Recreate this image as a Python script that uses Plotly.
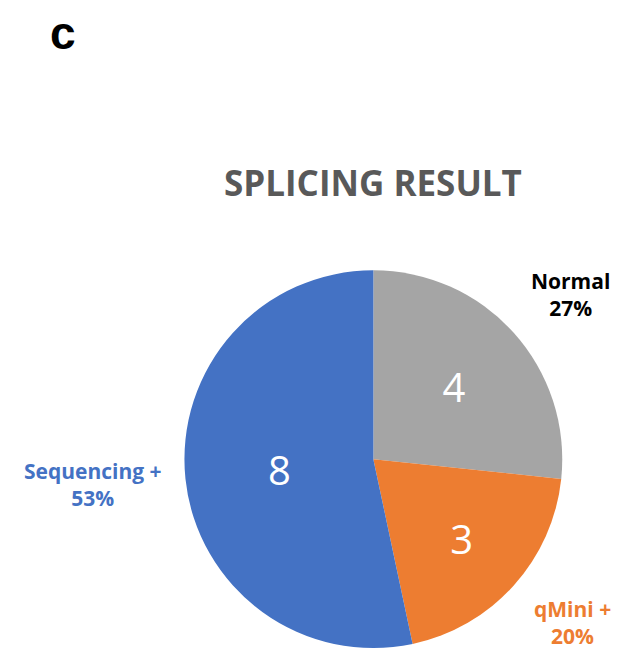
import plotly.graph_objects as go

# Splicing outcome counts
categories = ["Normal", "qMini +", "Sequencing +"]
counts = [4, 3, 8]
colors = ["#A5A5A5", "#ED7D31", "#4472C4"]
label_colors = ["#000000", "#ED7D31", "#4472C4"]
# positions of the outside category labels (paper coords)
label_pos = [(0.909, 0.556), (0.911, 0.062), (0.148, 0.270)]

total = sum(counts)

fig = go.Figure()
fig.add_trace(go.Pie(
    labels=categories,
    values=counts,
    sort=False,
    direction="clockwise",
    rotation=0,
    marker=dict(colors=colors, line=dict(width=0)),
    textinfo="value",
    textposition="inside",
    insidetextorientation="horizontal",
    textfont=dict(family="Open Sans", size=40, color="white"),
    domain=dict(x=[0.293, 0.896], y=[0.024, 0.593]),
    showlegend=False,
    hoverinfo="label+value+percent",
))

for name, v, col, (px, py) in zip(categories, counts, label_colors, label_pos):
    pct = round(100 * v / total)
    fig.add_annotation(
        x=px, y=py, xref="paper", yref="paper",
        xanchor="center", yanchor="middle",
        text=f"<b>{name}<br>{pct}%</b>",
        showarrow=False, align="center",
        font=dict(family="Open Sans", size=21, color=col),
    )

fig.add_annotation(
    x=0.594, y=0.725, xref="paper", yref="paper",
    xanchor="center", yanchor="middle",
    text="<b>SPLICING RESULT</b>", showarrow=False,
    font=dict(family="Open Sans", size=35, color="#595959"),
)
fig.add_annotation(
    x=0.1, y=0.95, xref="paper", yref="paper",
    xanchor="center", yanchor="middle",
    text="<b>c</b>", showarrow=False,
    font=dict(family="Liberation Sans", size=46, color="black"),
)

fig.update_layout(
    width=628, height=664,
    margin=dict(l=0, r=0, t=0, b=0),
    paper_bgcolor="white", plot_bgcolor="white",
)

fig.write_html("out.html")
